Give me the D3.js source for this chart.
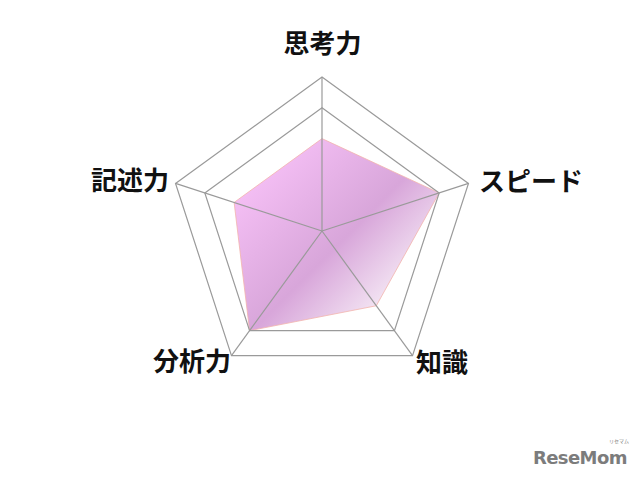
<!DOCTYPE html>
<html><head><meta charset="utf-8">
<script src="https://cdn.jsdelivr.net/npm/d3@7"></script>
<style>html,body{margin:0;padding:0;background:#fff;}svg{display:block;}</style>
</head><body>
<script>
const categories = ["思考力", "スピード", "知識", "分析力", "記述力"];
const values = [3, 4, 3, 4, 3];
const gridLevels = [4, 5];
const maxValue = 5;

const W = 640, H = 478, cx = 322, cy = 231, R = 154;
const svg = d3.select("body").append("svg").attr("width", W).attr("height", H);
const r = d3.scaleLinear().domain([0, maxValue]).range([0, R]);
const ang = d3.scalePoint().domain(categories).range([0, 2 * Math.PI * (categories.length - 1) / categories.length]);
const pt = (c, v) => [cx + r(v) * Math.sin(ang(c)), cy - r(v) * Math.cos(ang(c))];

const defs = svg.append("defs");
const g = defs.append("linearGradient").attr("id", "fillGrad")
  .attr("gradientUnits", "userSpaceOnUse")
  .attr("x1", 217).attr("y1", 218).attr("x2", 341).attr("y2", 341);
g.append("stop").attr("offset", 0).attr("stop-color", "#f4bef4");
g.append("stop").attr("offset", 0.6).attr("stop-color", "#d8a6da");
g.append("stop").attr("offset", 1).attr("stop-color", "#f2e2f2");

const line = d3.line().curve(d3.curveLinearClosed);
svg.append("path")
  .attr("d", line(categories.map((c, i) => pt(c, values[i]))))
  .attr("fill", "url(#fillGrad)")
  .attr("stroke", "#f2b4ac").attr("stroke-width", 0.8);

svg.selectAll(".ring").data(gridLevels).join("path")
  .attr("d", lv => line(categories.map(c => pt(c, lv))))
  .attr("fill", "none").attr("stroke", "#9a9a9a").attr("stroke-width", 1.2);

svg.selectAll(".spoke").data(categories).join("line")
  .attr("x1", cx).attr("y1", cy)
  .attr("x2", c => pt(c, maxValue)[0]).attr("y2", c => pt(c, maxValue)[1])
  .attr("stroke", "#9a9a9a").attr("stroke-width", 1.2);

const labelPos = {
  "思考力": {x: 322.5, y: 41, a: "middle"},
  "スピード": {x: 479, y: 179, a: "start"},
  "知識": {x: 416, y: 360, a: "start"},
  "分析力": {x: 231, y: 359, a: "end"},
  "記述力": {x: 169, y: 178, a: "end"}
};
svg.selectAll(".lab").data(categories).join("text")
  .attr("x", c => labelPos[c].x).attr("y", c => labelPos[c].y)
  .attr("text-anchor", c => labelPos[c].a)
  .attr("dominant-baseline", "central")
  .attr("font-family", "'Noto Sans CJK JP', sans-serif")
  .attr("font-size", 26).attr("font-weight", "bold").attr("fill", "#111")
  .text(c => c);

svg.append("text").attr("x", 533).attr("y", 464)
  .attr("font-family", "'DejaVu Sans', sans-serif").attr("font-weight", "bold")
  .attr("font-size", 18).attr("letter-spacing", -0.6).attr("fill", "#7c7c7c")
  .text("ReseMom");
svg.append("text").attr("x", 609).attr("y", 443)
  .attr("font-family", "'Noto Sans CJK JP', sans-serif")
  .attr("font-size", 5).attr("fill", "#7c7c7c").text("リセマム");
</script>
</body></html>
